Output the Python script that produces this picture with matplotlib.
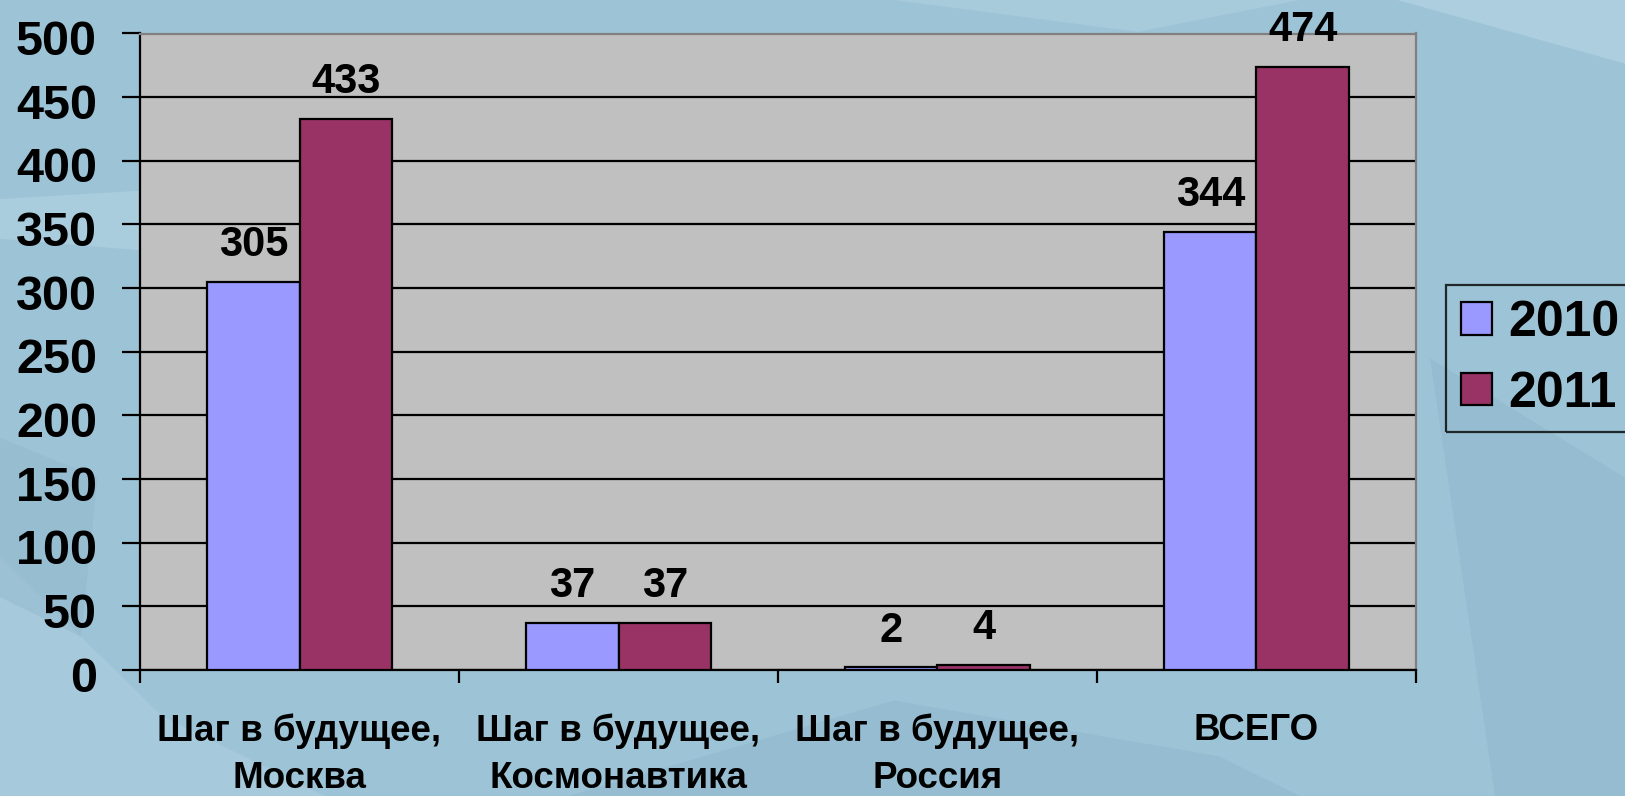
import matplotlib
matplotlib.use("Agg")
import matplotlib.pyplot as plt
import matplotlib.transforms as mtransforms
from matplotlib.patches import Polygon
import numpy as np

plt.rcParams['font.family'] = ['Liberation Sans', 'DejaVu Sans']
plt.rcParams['font.weight'] = 'bold'

categories = ["Шаг в будущее,\nМосква", "Шаг в будущее,\nКосмонавтика",
              "Шаг в будущее,\nРоссия", "ВСЕГО"]
series_names = ["2010", "2011"]
values_2010 = [305, 37, 2, 344]
values_2011 = [433, 37, 4, 474]
y_ticks = [0, 50, 100, 150, 200, 250, 300, 350, 400, 450, 500]

col_2010 = "#9999FF"
col_2011 = "#993366"
bg = "#9DC3D6"

fig = plt.figure(figsize=(16.25, 7.96), dpi=100)
fig.patch.set_facecolor(bg)

# decorative icy background shapes
deco = [
    ([(0.0, 0.75), (0.25, 0.78), (0.35, 0.72), (0.12, 0.68), (0.0, 0.70)], "#B4D4E3", 0.6),
    ([(0.86, 1.0), (1.0, 0.92), (1.0, 1.0)], "#B8D6E4", 0.6),
    ([(0.88, 0.55), (0.92, 0.0), (1.0, 0.0), (1.0, 0.40)], "#8FB6CC", 0.5),
    ([(0.0, 0.0), (0.0, 0.3), (0.1, 0.1), (0.2, 0.0)], "#B0D0E0", 0.5),
    ([(0.35, 0.0), (0.55, 0.12), (0.75, 0.05), (0.8, 0.0)], "#8DB4CA", 0.45),
    ([(0.55, 1.0), (0.7, 0.96), (0.8, 1.0)], "#B4D3E2", 0.5),
    ([(0.0, 0.45), (0.06, 0.40), (0.05, 0.2), (0.0, 0.25)], "#8EB5CA", 0.4),
]
for pts, c, a in deco:
    fig.patches.append(Polygon(pts, closed=True, transform=fig.transFigure,
                               facecolor=c, alpha=a, edgecolor="none", zorder=-5))

ax = fig.add_axes([140/1625, 1-670/796, (1416-140)/1625, (670-33.5)/796])
ax.set_facecolor("#C0C0C0")

x = np.arange(len(categories))
w = 0.29
b1 = ax.bar(x - w/2, values_2010, w, color=col_2010, edgecolor="black", linewidth=1.6,
            label=series_names[0], zorder=3)
b2 = ax.bar(x + w/2, values_2011, w, color=col_2011, edgecolor="black", linewidth=1.6,
            label=series_names[1], zorder=3)

for bars, vals in ((b1, values_2010), (b2, values_2011)):
    for r, v in zip(bars, vals):
        ax.annotate(str(v), (r.get_x() + r.get_width()/2, v), xytext=(0, 12),
                    textcoords="offset points", ha="center", va="bottom",
                    fontsize=30, fontweight="bold", color="black", zorder=5,
                    annotation_clip=False)

ax.set_ylim(0, 500)
ax.set_xlim(-0.5, 3.5)
ax.set_yticks(y_ticks)
ax.set_yticklabels([str(t) for t in y_ticks], fontsize=35, fontweight="bold")
ax.tick_params(axis="y", direction="out", length=13, width=1.6, pad=18, colors="black")
shift = mtransforms.ScaledTranslation(0, -4/100, fig.dpi_scale_trans)
for lab in ax.get_yticklabels():
    lab.set_transform(lab.get_transform() + shift)
ax.yaxis.grid(True, color="black", linewidth=1.6, zorder=1)
ax.set_axisbelow(True)

ax.set_xticks(x)
ax.set_xticklabels(categories, fontsize=26.5, fontweight="bold", linespacing=1.44)
ax.tick_params(axis="x", which="major", length=0, pad=31)
ax.set_xticks(np.arange(-0.5, 4.0, 1.0), minor=True)
ax.tick_params(axis="x", which="minor", direction="out", length=9.5, width=1.6)

for s in ("left", "bottom"):
    ax.spines[s].set_color("black")
    ax.spines[s].set_linewidth(1.6)
for s in ("top", "right"):
    ax.spines[s].set_color("#808080")
    ax.spines[s].set_linewidth(1.6)

leg = fig.legend(handles=[b1, b2], labels=series_names, loc="upper left",
                 bbox_to_anchor=(1446/1625, 1-285/796), fontsize=36,
                 frameon=True, fancybox=False, edgecolor="black", facecolor="none",
                 handlelength=0.62, handleheight=0.62, handletextpad=0.32,
                 borderpad=0.3, labelspacing=0.49, borderaxespad=0)
leg.get_frame().set_linewidth(1.6)
for t in leg.get_texts():
    t.set_fontweight("bold")

fig.savefig("out.png", dpi=100, facecolor=fig.get_facecolor())
